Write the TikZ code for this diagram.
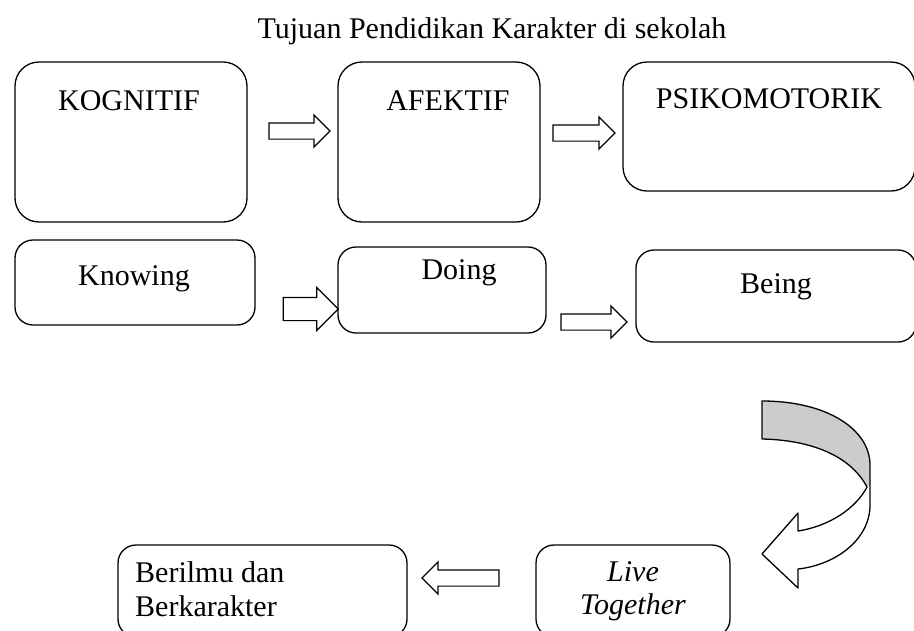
\documentclass[tikz,border=0pt]{standalone}
\usepackage{fontspec}
\setmainfont{Liberation Serif}
\usetikzlibrary{shapes.arrows}
\begin{document}
\begin{tikzpicture}[x=1pt,y=-1pt,
  box/.style={draw,line width=1.3pt,rounded corners=24pt,inner sep=0pt},
  sbox/.style={draw,line width=1.3pt,rounded corners=18pt,inner sep=0pt},
  txt/.style={font=\fontsize{30}{34}\selectfont,inner sep=0pt},
  barrow/.style={single arrow,draw,line width=1.2pt,inner xsep=0pt,inner ysep=7.5pt,
     single arrow head extend=8pt,single arrow tip angle=90,anchor=center}]
\useasboundingbox (0,0) rectangle (914,630);
% title
\node[txt] (title) at (492,31) {Tujuan Pendidikan Karakter di sekolah};
% top row boxes
\node[box,minimum width=232pt,minimum height=160pt] (kog) at (131,142) {};
\node[box,minimum width=202pt,minimum height=160pt] (afe) at (439,142) {};
\node[box,minimum width=292pt,minimum height=129pt] (psi) at (769,126.5) {};
\node[txt] (tkog) at (129,101) {KOGNITIF};
\node[txt] (tafe) at (448,101) {AFEKTIF};
\node[txt] (tpsi) at (769,99) {PSIKOMOTORIK};
% second row
\node[sbox,minimum width=240pt,minimum height=85pt] (kno) at (135,282.5) {};
\node[sbox,minimum width=208pt,minimum height=86pt] (doi) at (442,290) {};
\node[sbox,minimum width=280pt,minimum height=92pt] (bei) at (776,296) {};
\node[txt] (tkno) at (134,279) {Knowing};
\node[txt] (tdoi) at (459,273) {Doing};
\node[txt] (tbei) at (776,287) {Being};
% bottom row
\node[sbox,minimum width=289pt,minimum height=92pt] (ber) at (262.5,591) {};
\node[sbox,minimum width=194pt,minimum height=92pt] (liv) at (633,591) {};
\node[txt,align=left,anchor=north west] (tber) at (135,561) {Berilmu dan\\Berkarakter};
\node[txt,align=center,anchor=north,font=\fontsize{30}{33}\selectfont\itshape] (tliv) at (633,561) {Live\\Together};
% block arrows
\node[barrow,minimum height=61pt] (a1) at (295.5,131) {};
\node[barrow,minimum height=62pt] (a2) at (580,133) {};
\node[barrow,minimum height=55pt,inner ysep=11pt,single arrow head extend=10pt] (a3) at (305,309) {};
\node[barrow,minimum height=66pt] (a4) at (590,322) {};
\node[barrow,minimum height=77pt,shape border rotate=180] (a5) at (464.5,578) {};
% curved arrow
\fill[gray!40] (762,401) .. controls (828,401) and (870,430) .. (870,465) -- (870,485)
   -- (867,487) .. controls (850,455) and (810,440) .. (762,439) -- cycle;
\draw[line width=1.3pt,line join=round] (762,401) .. controls (828,401) and (870,430) .. (870,465)
   -- (870,505) .. controls (870,540) and (835,565) .. (798,569) -- (798,588) -- (762,554)
   -- (798,513) -- (798,531) .. controls (830,526) and (856,508) .. (867,487)
   .. controls (850,455) and (810,440) .. (762,439) -- cycle;
\end{tikzpicture}
\end{document}
